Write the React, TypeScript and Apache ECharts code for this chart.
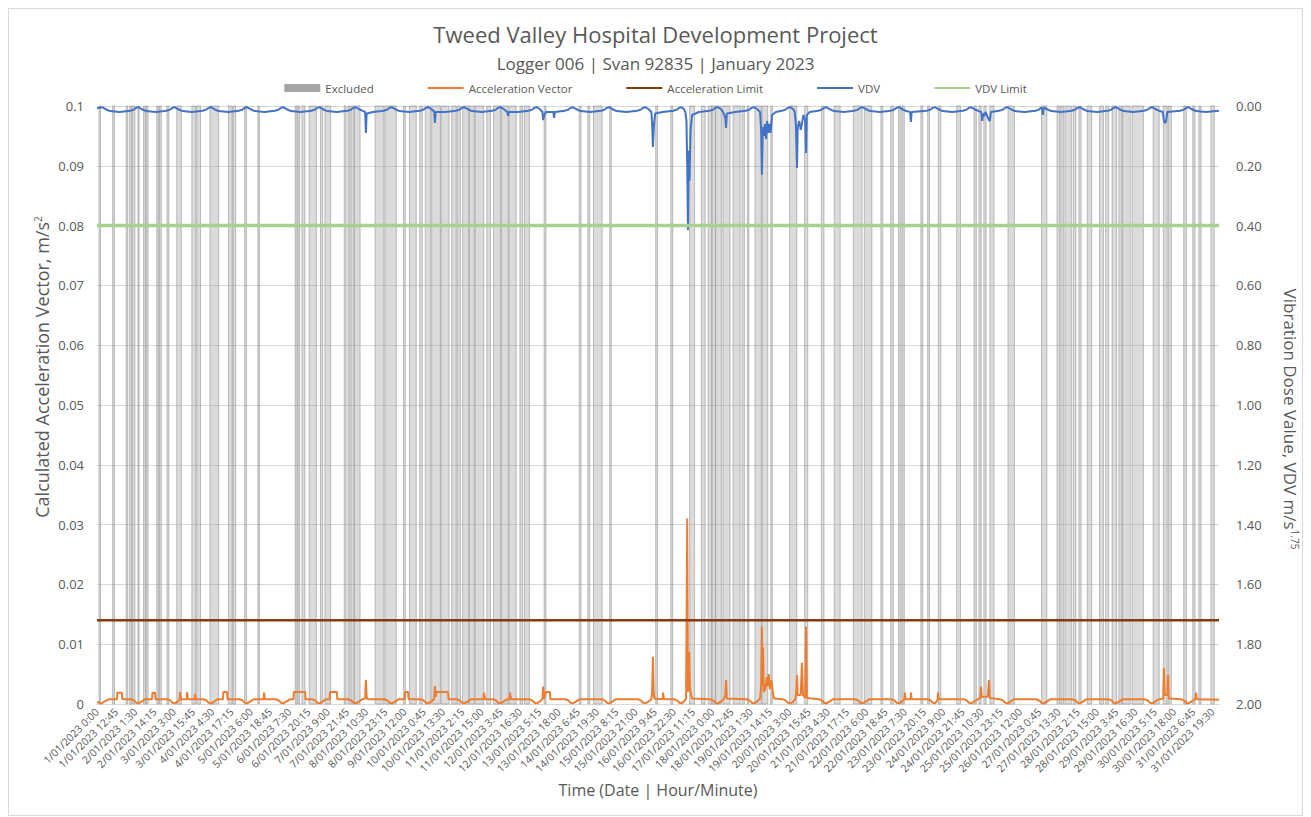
import { useEffect, useRef } from "react";
import * as echarts from "echarts";

// ---------- categories (15-minute slots through January 2023) ----------
const DAY_COUNT = 31;
const SLOTS_PER_DAY = 96;
const categories: string[] = [];
for (let d = 1; d <= DAY_COUNT; d++) {
  for (let q = 0; q < SLOTS_PER_DAY; q++) {
    const m = q * 15;
    categories.push(`${d}/01/2023 ${Math.floor(m / 60)}:${String(m % 60).padStart(2, "0")}`);
  }
}
const LAST_SLOT = categories.length - 1;

// ---------- limits ----------
const accelLimit = 0.014;
const vdvLimit = 0.4;
const excludedLevel = 0.1;

// ---------- Acceleration Vector [slot, m/s2] ----------
const accelVector: [number, number][] = [
  [0, 0.0004], [5, 0.0002], [12, 0.0001], [22, 0.0005], [32, 0.0008], [53, 0.0008], [54, 0.0019], [66, 0.0019], [67, 0.0008], [90, 0.0008],
  [98, 0.0006], [104, 0.0002], [110, 0.0001], [118, 0.0004], [128, 0.0008], [146, 0.0008], [147, 0.0019], [154, 0.0019], [155, 0.0008], [186, 0.0008],
  [194, 0.0006], [200, 0.0002], [206, 0.0001], [214, 0.0004], [219, 0.0007], [220, 0.002], [222, 0.0008], [238, 0.0008], [239, 0.002], [241, 0.0008], [259, 0.0008], [260, 0.0017], [262, 0.0008], [282, 0.0008],
  [290, 0.0006], [296, 0.0002], [302, 0.0001], [310, 0.0004], [320, 0.0008], [334, 0.0008], [335, 0.002], [345, 0.002], [346, 0.0008], [378, 0.0008],
  [386, 0.0006], [392, 0.0002], [398, 0.0001], [406, 0.0004], [416, 0.0008], [442, 0.0008], [443, 0.0019], [445, 0.0008], [474, 0.0008],
  [482, 0.0006], [488, 0.0002], [494, 0.0001], [502, 0.0004], [512, 0.0008], [521, 0.0008], [522, 0.002], [552, 0.002], [553, 0.0008], [570, 0.0008],
  [578, 0.0006], [584, 0.0002], [590, 0.0001], [598, 0.0004], [608, 0.0008], [617, 0.0008], [618, 0.002], [636, 0.002], [637, 0.0008], [666, 0.0008],
  [674, 0.0006], [680, 0.0002], [686, 0.0001], [694, 0.0004], [704, 0.0008], [711, 0.0009], [713, 0.004], [715, 0.0012], [718, 0.0008], [762, 0.0008],
  [770, 0.0006], [776, 0.0002], [782, 0.0001], [790, 0.0004], [800, 0.0008], [816, 0.0008], [817, 0.002], [825, 0.002], [826, 0.0008], [858, 0.0008],
  [866, 0.0006], [872, 0.0002], [878, 0.0001], [886, 0.0004], [894, 0.0008], [896, 0.003], [898, 0.0012], [901, 0.002], [931, 0.002], [932, 0.0008], [954, 0.0008],
  [962, 0.0006], [968, 0.0002], [974, 0.0001], [982, 0.0004], [992, 0.0008], [1025, 0.0008], [1026, 0.0019], [1029, 0.0008], [1050, 0.0008],
  [1058, 0.0006], [1064, 0.0002], [1070, 0.0001], [1078, 0.0004], [1088, 0.0008], [1094, 0.0008], [1095, 0.0019], [1098, 0.0008], [1146, 0.0008],
  [1154, 0.0006], [1160, 0.0002], [1166, 0.0001], [1174, 0.0004], [1181, 0.0008], [1183, 0.0029], [1186, 0.0009], [1190, 0.002], [1201, 0.002], [1202, 0.0008], [1242, 0.0008],
  [1250, 0.0006], [1256, 0.0002], [1262, 0.0001], [1270, 0.0004], [1280, 0.0008], [1338, 0.0008],
  [1346, 0.0006], [1352, 0.0002], [1358, 0.0001], [1366, 0.0004], [1376, 0.0008], [1434, 0.0008],
  [1442, 0.0006], [1448, 0.0002], [1454, 0.0001], [1462, 0.0004], [1470, 0.0008], [1472, 0.002], [1474, 0.0079], [1476, 0.002], [1478, 0.0009], [1500, 0.0008], [1501, 0.0019], [1503, 0.0008], [1530, 0.0008],
  [1538, 0.0006], [1544, 0.0002], [1550, 0.0001], [1556, 0.0004], [1562, 0.0009], [1565, 0.031], [1567, 0.002], [1570, 0.0087], [1572, 0.003], [1575, 0.0015], [1578, 0.0009], [1626, 0.0008],
  [1634, 0.0006], [1640, 0.0002], [1646, 0.0001], [1654, 0.0004], [1662, 0.0008], [1666, 0.0015], [1668, 0.004], [1670, 0.0009], [1722, 0.0008],
  [1730, 0.0006], [1736, 0.0002], [1742, 0.0001], [1750, 0.0004], [1758, 0.0009], [1761, 0.003], [1763, 0.0129], [1765, 0.003], [1766, 0.0095], [1768, 0.002], [1772, 0.0025], [1776, 0.0045], [1778, 0.003], [1781, 0.005], [1784, 0.0025], [1788, 0.004], [1792, 0.002], [1795, 0.0009], [1818, 0.0008],
  [1826, 0.0006], [1832, 0.0002], [1838, 0.0001], [1846, 0.0004], [1852, 0.0009], [1854, 0.002], [1856, 0.0048], [1858, 0.0015], [1866, 0.0015], [1869, 0.0069], [1872, 0.0015], [1878, 0.001], [1880, 0.0129], [1882, 0.001], [1914, 0.0008],
  [1922, 0.0006], [1928, 0.0002], [1934, 0.0001], [1942, 0.0004], [1952, 0.0008], [2010, 0.0008],
  [2018, 0.0006], [2024, 0.0002], [2030, 0.0001], [2038, 0.0004], [2048, 0.0008], [2106, 0.0008],
  [2114, 0.0006], [2120, 0.0002], [2126, 0.0001], [2134, 0.0004], [2141, 0.0008], [2142, 0.0019], [2144, 0.0008], [2157, 0.0008], [2158, 0.0019], [2160, 0.0008], [2202, 0.0008],
  [2210, 0.0006], [2216, 0.0002], [2222, 0.0001], [2226, 0.0004], [2229, 0.0007], [2230, 0.0019], [2232, 0.0008], [2298, 0.0008],
  [2306, 0.0006], [2312, 0.0002], [2318, 0.0001], [2326, 0.0004], [2336, 0.0008], [2342, 0.001], [2344, 0.0029], [2346, 0.0012], [2362, 0.0012], [2365, 0.004], [2367, 0.001], [2394, 0.0008],
  [2402, 0.0006], [2408, 0.0002], [2414, 0.0001], [2422, 0.0004], [2432, 0.0008], [2490, 0.0008],
  [2498, 0.0006], [2504, 0.0002], [2510, 0.0001], [2518, 0.0004], [2528, 0.0008], [2586, 0.0008],
  [2594, 0.0006], [2600, 0.0002], [2606, 0.0001], [2614, 0.0004], [2624, 0.0008], [2682, 0.0008],
  [2690, 0.0006], [2696, 0.0002], [2702, 0.0001], [2710, 0.0004], [2720, 0.0008], [2778, 0.0008],
  [2786, 0.0006], [2792, 0.0002], [2798, 0.0001], [2806, 0.0004], [2816, 0.0008], [2827, 0.0009], [2829, 0.006], [2831, 0.0015], [2838, 0.0015], [2840, 0.0049], [2842, 0.0009], [2874, 0.0008],
  [2882, 0.0006], [2888, 0.0002], [2894, 0.0001], [2902, 0.0004], [2910, 0.0008], [2913, 0.0008], [2914, 0.0019], [2916, 0.0008], [2975, 0.0007],
];

// ---------- VDV [slot, m/s1.75] ----------
const vdv: [number, number][] = [
  [0, 0.008], [6, 0.006], [14, 0.004], [22, 0.01], [34, 0.017], [60, 0.02], [88, 0.016],
  [98, 0.012], [104, 0.006], [110, 0.004], [118, 0.01], [130, 0.017], [156, 0.02], [184, 0.016],
  [194, 0.012], [200, 0.006], [206, 0.004], [214, 0.01], [226, 0.017], [252, 0.02], [280, 0.016],
  [290, 0.012], [296, 0.006], [302, 0.004], [310, 0.01], [322, 0.017], [348, 0.02], [376, 0.016],
  [386, 0.012], [392, 0.006], [398, 0.004], [406, 0.01], [418, 0.017], [444, 0.02], [472, 0.016],
  [482, 0.012], [488, 0.006], [494, 0.004], [502, 0.01], [514, 0.017], [540, 0.02], [568, 0.016],
  [578, 0.012], [584, 0.006], [590, 0.004], [598, 0.01], [610, 0.017], [636, 0.02], [664, 0.016],
  [674, 0.012], [680, 0.006], [686, 0.004], [694, 0.01], [706, 0.017], [711, 0.02], [713, 0.09], [715, 0.025], [732, 0.02], [760, 0.016],
  [770, 0.012], [776, 0.006], [782, 0.004], [790, 0.01], [802, 0.017], [828, 0.02], [856, 0.016],
  [866, 0.012], [872, 0.006], [878, 0.004], [886, 0.01], [894, 0.018], [896, 0.057], [898, 0.02], [924, 0.02], [952, 0.016],
  [962, 0.012], [968, 0.006], [974, 0.004], [982, 0.01], [994, 0.017], [1020, 0.02], [1048, 0.016],
  [1058, 0.012], [1064, 0.006], [1070, 0.004], [1078, 0.01], [1088, 0.02], [1090, 0.033], [1092, 0.02], [1116, 0.02], [1144, 0.016],
  [1154, 0.012], [1160, 0.006], [1166, 0.004], [1174, 0.01], [1181, 0.02], [1183, 0.047], [1186, 0.03], [1190, 0.02], [1210, 0.02], [1212, 0.04], [1214, 0.02], [1240, 0.016],
  [1250, 0.012], [1256, 0.006], [1262, 0.004], [1270, 0.01], [1282, 0.017], [1308, 0.02], [1336, 0.016],
  [1346, 0.012], [1352, 0.006], [1358, 0.004], [1366, 0.01], [1378, 0.017], [1404, 0.02], [1432, 0.016],
  [1442, 0.012], [1448, 0.006], [1454, 0.004], [1462, 0.01], [1470, 0.02], [1472, 0.06], [1474, 0.137], [1477, 0.06], [1480, 0.025], [1500, 0.02], [1528, 0.016],
  [1538, 0.012], [1544, 0.006], [1550, 0.004], [1556, 0.01], [1560, 0.02], [1563, 0.05], [1565, 0.2], [1567, 0.415], [1569, 0.15], [1571, 0.25], [1574, 0.08], [1578, 0.03], [1596, 0.02], [1624, 0.016],
  [1634, 0.012], [1640, 0.006], [1646, 0.004], [1654, 0.01], [1660, 0.02], [1666, 0.04], [1668, 0.073], [1670, 0.025], [1692, 0.02], [1720, 0.016],
  [1730, 0.012], [1736, 0.006], [1742, 0.004], [1750, 0.01], [1758, 0.02], [1761, 0.08], [1763, 0.23], [1765, 0.1], [1767, 0.07], [1769, 0.1], [1771, 0.06], [1774, 0.11], [1777, 0.05], [1780, 0.09], [1783, 0.06], [1786, 0.09], [1790, 0.03], [1800, 0.02], [1816, 0.016],
  [1826, 0.012], [1832, 0.006], [1838, 0.004], [1846, 0.01], [1850, 0.02], [1853, 0.06], [1856, 0.207], [1858, 0.07], [1862, 0.05], [1866, 0.08], [1869, 0.06], [1873, 0.03], [1878, 0.05], [1880, 0.157], [1882, 0.03], [1890, 0.02], [1912, 0.016],
  [1922, 0.012], [1928, 0.006], [1934, 0.004], [1942, 0.01], [1954, 0.017], [1980, 0.02], [2008, 0.016],
  [2018, 0.012], [2024, 0.006], [2030, 0.004], [2038, 0.01], [2050, 0.017], [2076, 0.02], [2104, 0.016],
  [2114, 0.012], [2120, 0.006], [2126, 0.004], [2134, 0.01], [2146, 0.017], [2156, 0.02], [2158, 0.053], [2160, 0.02], [2200, 0.016],
  [2210, 0.012], [2216, 0.006], [2222, 0.004], [2230, 0.01], [2242, 0.017], [2268, 0.02], [2296, 0.016],
  [2306, 0.012], [2312, 0.006], [2318, 0.004], [2326, 0.01], [2338, 0.017], [2345, 0.02], [2347, 0.05], [2350, 0.025], [2352, 0.035], [2356, 0.02], [2366, 0.05], [2368, 0.045], [2370, 0.02], [2392, 0.016],
  [2402, 0.012], [2408, 0.006], [2414, 0.004], [2422, 0.01], [2434, 0.017], [2460, 0.02], [2488, 0.016],
  [2498, 0.012], [2502, 0.006], [2506, 0.008], [2508, 0.03], [2510, 0.005], [2518, 0.01], [2530, 0.017], [2556, 0.02], [2584, 0.016],
  [2594, 0.012], [2600, 0.006], [2606, 0.004], [2614, 0.01], [2626, 0.017], [2652, 0.02], [2680, 0.016],
  [2690, 0.012], [2696, 0.006], [2702, 0.004], [2710, 0.01], [2722, 0.017], [2748, 0.02], [2776, 0.016],
  [2786, 0.012], [2792, 0.006], [2798, 0.004], [2806, 0.01], [2818, 0.017], [2826, 0.02], [2829, 0.05], [2832, 0.057], [2835, 0.05], [2838, 0.02], [2872, 0.016],
  [2882, 0.012], [2888, 0.006], [2894, 0.004], [2902, 0.01], [2914, 0.017], [2940, 0.02], [2975, 0.016],
];

// ---------- Excluded periods [startSlot, endSlot] ----------
const excludedRuns: [number, number][] = [
  [6, 9], [42, 46], [78, 81], [87, 91], [95, 100], [109, 111], [124, 128], [131, 135], [159, 163], [166, 170], [186, 190],
  [212, 223], [252, 261], [265, 274], [300, 322], [349, 358], [361, 367], [392, 396], [427, 430], [526, 530], [533, 537],
  [544, 551], [563, 581], [593, 598], [605, 619], [656, 660], [666, 670], [674, 681], [683, 697], [738, 760], [764, 793],
  [813, 817], [829, 846], [856, 862], [871, 884], [888, 910], [913, 933], [941, 952], [956, 963], [970, 985], [988, 1000],
  [1003, 1025], [1034, 1043], [1052, 1070], [1072, 1090], [1093, 1111], [1122, 1128], [1134, 1146], [1186, 1190],
  [1279, 1283], [1302, 1306], [1317, 1339], [1360, 1363], [1482, 1486], [1522, 1526], [1572, 1584], [1603, 1612],
  [1621, 1630], [1631, 1639], [1641, 1655], [1660, 1678], [1687, 1705], [1711, 1716], [1725, 1728], [1745, 1761],
  [1764, 1778], [1787, 1790], [1837, 1855], [1877, 1884], [1921, 1927], [1955, 1970], [2006, 2028], [2035, 2054],
  [2079, 2083], [2105, 2111], [2126, 2131], [2135, 2140], [2185, 2189], [2203, 2207], [2231, 2237], [2280, 2289],
  [2326, 2331], [2339, 2344], [2352, 2357], [2368, 2378], [2416, 2432], [2505, 2518], [2546, 2552], [2556, 2562],
  [2567, 2583], [2589, 2595], [2604, 2609], [2626, 2637], [2659, 2668], [2675, 2682], [2692, 2703], [2710, 2717],
  [2720, 2739], [2745, 2774], [2801, 2816], [2828, 2837], [2841, 2848], [2882, 2888], [2906, 2911], [2922, 2927],
  [2954, 2962],
];

const TEXT = "#595959";
const FONT = "'Open Sans', 'Liberation Sans', sans-serif";
const supRich = { sup: { fontSize: 10, color: TEXT, fontFamily: FONT, verticalAlign: "bottom", padding: [0, 0, 9, 0] } };

export default function App() {
  const ref = useRef<HTMLDivElement>(null);
  useEffect(() => {
    if (!ref.current) return;
    const chart = echarts.init(ref.current, undefined, { renderer: "svg" });
    const hideSymbol = { itemStyle: { opacity: 0 } };
    const option: any = {
      animation: false,
      backgroundColor: "#ffffff",
      textStyle: { fontFamily: FONT },
      title: [
        { text: "Tweed Valley Hospital Development Project", left: "center", top: 9, textStyle: { fontSize: 22, fontWeight: "normal", color: TEXT, fontFamily: FONT } },
        { text: "Logger 006 | Svan 92835 | January 2023", left: "center", top: 41, textStyle: { fontSize: 17, fontWeight: "normal", color: TEXT, fontFamily: FONT } },
      ],
      legend: {
        top: 68,
        left: "center",
        itemGap: 53,
        itemWidth: 36,
        itemHeight: 8,
        textStyle: { fontSize: 11.5, color: TEXT, fontFamily: FONT },
        data: [
          { name: "Excluded", icon: "rect" },
          { name: "Acceleration Vector", ...hideSymbol },
          { name: "Acceleration Limit", ...hideSymbol },
          { name: "VDV", ...hideSymbol },
          { name: "VDV Limit", ...hideSymbol },
        ],
      },
      grid: { left: 88, right: 83, top: 97, bottom: 111 },
      graphic: [
        {
          type: "text",
          x: 33,
          y: 358,
          rotation: Math.PI / 2,
          style: {
            text: "Calculated Acceleration Vector, m/s{sup|2}",
            fill: TEXT,
            fontSize: 18,
            fontFamily: FONT,
            align: "center",
            verticalAlign: "middle",
            rich: supRich,
          },
        },
        {
          type: "text",
          x: 1281,
          y: 410,
          rotation: -Math.PI / 2,
          style: {
            text: "Vibration Dose Value, VDV m/s{sup|1.75}",
            fill: TEXT,
            fontSize: 17,
            fontFamily: FONT,
            align: "center",
            verticalAlign: "middle",
            rich: supRich,
          },
        },
      ],
      xAxis: {
        type: "category",
        data: categories,
        boundaryGap: false,
        axisLine: { lineStyle: { color: "#d9d9d9" } },
        axisTick: { show: false },
        splitLine: { show: false },
        axisLabel: { interval: 50, rotate: 45, fontSize: 10.5, color: TEXT, margin: 6, fontFamily: FONT },
        name: "Time (Date | Hour/Minute)",
        nameLocation: "middle",
        nameGap: 78,
        nameTextStyle: { fontSize: 16, color: TEXT, fontFamily: FONT },
      },
      yAxis: [
        {
          type: "value",
          min: 0,
          max: 0.1,
          interval: 0.01,
          axisLine: { show: false },
          axisTick: { show: false },
          splitLine: { lineStyle: { color: "#d9d9d9", width: 1 } },
          axisLabel: { fontSize: 13, color: TEXT, margin: 13, fontFamily: FONT, formatter: (v: number) => String(Number(v.toFixed(2))) },
        },
        {
          type: "value",
          min: 0,
          max: 2,
          interval: 0.2,
          inverse: true,
          position: "right",
          axisLine: { show: false },
          axisTick: { show: false },
          splitLine: { show: false },
          axisLabel: { fontSize: 13, color: TEXT, margin: 17, fontFamily: FONT, formatter: (v: number) => v.toFixed(2) },
        },
      ],
      series: [
        {
          name: "Excluded",
          type: "custom",
          xAxisIndex: 0,
          yAxisIndex: 0,
          itemStyle: { color: "#a5a5a5" },
          encode: { x: [0, 1], y: 2 },
          data: excludedRuns.map(([s, e]) => [s, e, excludedLevel]),
          renderItem: (_params: any, api: any) => {
            const s = api.value(0);
            const e = api.value(1);
            const top = api.coord([s, excludedLevel]);
            const bot = api.coord([e, 0]);
            const step = api.coord([1, 0])[0] - api.coord([0, 0])[0];
            return {
              type: "rect",
              shape: { x: top[0] - step / 2, y: top[1], width: bot[0] - top[0] + step, height: bot[1] - top[1] },
              style: { fill: "rgba(165,165,165,0.4)", stroke: "rgba(150,150,150,0.75)", lineWidth: 0.8 },
            };
          },
          z: 1,
        },
        {
          name: "Acceleration Vector",
          type: "line",
          yAxisIndex: 0,
          symbol: "none",
          data: accelVector,
          lineStyle: { color: "#ED7D31", width: 2 },
          itemStyle: { color: "#ED7D31" },
          z: 3,
        },
        {
          name: "Acceleration Limit",
          type: "line",
          yAxisIndex: 0,
          symbol: "none",
          data: [[0, accelLimit], [LAST_SLOT, accelLimit]],
          lineStyle: { color: "#843C0C", width: 2.5 },
          itemStyle: { color: "#843C0C" },
          z: 4,
        },
        {
          name: "VDV",
          type: "line",
          yAxisIndex: 1,
          symbol: "none",
          data: vdv,
          lineStyle: { color: "#4472C4", width: 2 },
          itemStyle: { color: "#4472C4" },
          z: 5,
        },
        {
          name: "VDV Limit",
          type: "line",
          yAxisIndex: 1,
          symbol: "none",
          data: [[0, vdvLimit], [LAST_SLOT, vdvLimit]],
          lineStyle: { color: "#A9D18E", width: 3.5 },
          itemStyle: { color: "#A9D18E" },
          z: 6,
        },
      ],
    };
    chart.setOption(option);
    return () => chart.dispose();
  }, []);

  return (
    <div style={{ width: 1295, height: 808, border: "1px solid #d9d9d9", boxSizing: "border-box", background: "#fff" }}>
      <div ref={ref} style={{ width: 1293, height: 806 }} />
    </div>
  );
}
